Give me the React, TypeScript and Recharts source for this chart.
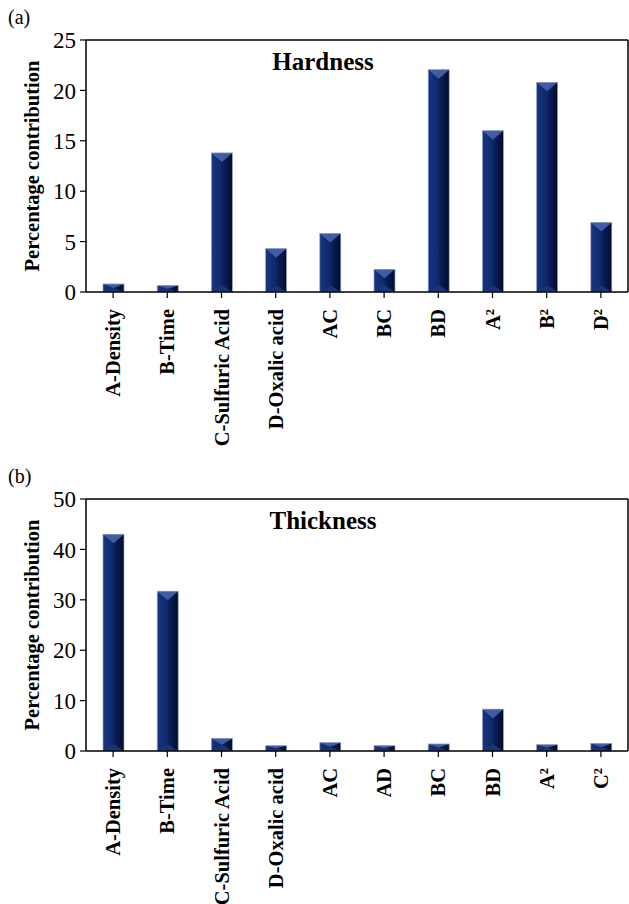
import React from "react";
import { BarChart, Bar, XAxis, YAxis, Label } from "recharts";

const hardnessCategories = [
  "A-Density",
  "B-Time",
  "C-Sulfuric Acid",
  "D-Oxalic acid",
  "AC",
  "BC",
  "BD",
  "A²",
  "B²",
  "D²",
];
const hardnessValues = [0.8, 0.65, 13.8, 4.3, 5.8, 2.25, 22.05, 16.0, 20.8, 6.9];
const hardnessTicks = [0, 5, 10, 15, 20, 25];

const thicknessCategories = [
  "A-Density",
  "B-Time",
  "C-Sulfuric Acid",
  "D-Oxalic acid",
  "AC",
  "AD",
  "BC",
  "BD",
  "A²",
  "C²",
];
const thicknessValues = [43.0, 31.7, 2.5, 1.05, 1.65, 1.05, 1.4, 8.3, 1.25, 1.5];
const thicknessTicks = [0, 10, 20, 30, 40, 50];

const FONT = "'Liberation Serif', 'Times New Roman', serif";

function BevelBar(props: any) {
  const { x, y, width: w, height: h } = props;
  if (!h || h <= 0) return null;
  const dt = Math.min(9, h / 2);
  const db = Math.min(7, h / 2);
  return (
    <g>
      <defs>
        <linearGradient id="bevelBody" x1="0" y1="0" x2="1" y2="0">
          <stop offset="0%" stopColor="#173580" />
          <stop offset="45%" stopColor="#0f2a6c" />
          <stop offset="55%" stopColor="#0a215c" />
          <stop offset="100%" stopColor="#020b2c" />
        </linearGradient>
      </defs>
      <rect x={x} y={y} width={w} height={h} fill="url(#bevelBody)" />
      <polygon
        points={`${x},${y} ${x + w},${y} ${x + w / 2},${y + dt}`}
        fill="#3f5ca4"
      />
      <polygon
        points={`${x},${y + h} ${x + w},${y + h} ${x + w / 2},${y + h - db}`}
        fill="#1b3477"
      />
      <rect
        x={x}
        y={y}
        width={w}
        height={h}
        fill="none"
        stroke="#9aa5c4"
        strokeWidth={0.7}
      />
    </g>
  );
}

function RotatedTick(props: any) {
  const { x, y, payload } = props;
  return (
    <text
      x={0}
      y={0}
      transform={`translate(${x},${y + 9}) rotate(-90)`}
      textAnchor="end"
      dominantBaseline="central"
      fontFamily={FONT}
      fontWeight="bold"
      fontSize={20.5}
      fill="#000"
    >
      {payload.value}
    </text>
  );
}

function YTitle(props: any) {
  const { viewBox } = props;
  const cx = 32;
  const cy = viewBox.y + viewBox.height / 2;
  return (
    <text
      x={cx}
      y={cy}
      transform={`rotate(-90, ${cx}, ${cy})`}
      textAnchor="middle"
      dominantBaseline="central"
      fontFamily={FONT}
      fontWeight="bold"
      fontSize={20.5}
      fill="#000"
    >
      Percentage contribution
    </text>
  );
}

function ContributionChart({
  categories,
  values,
  ticks,
  height,
  axisHeight,
  title,
  tag,
}: {
  categories: string[];
  values: number[];
  ticks: number[];
  height: number;
  axisHeight: number;
  title: string;
  tag: string;
}) {
  const data = categories.map((name, i) => ({ name, value: values[i] }));
  const axisStyle = { stroke: "#000", strokeWidth: 1.5 };
  return (
    <div style={{ position: "relative", width: 629, height }}>
      <div
        style={{
          position: "absolute",
          left: 8,
          top: 6,
          fontFamily: FONT,
          fontSize: 20,
        }}
      >
        {tag}
      </div>
      <div
        style={{
          position: "absolute",
          left: 0,
          width: 646,
          top: 47,
          textAlign: "center",
          fontFamily: FONT,
          fontWeight: "bold",
          fontSize: 25,
          lineHeight: "30px",
        }}
      >
        {title}
      </div>
      <BarChart
        width={629}
        height={height}
        data={data}
        margin={{ top: 39, right: 0, left: 36, bottom: height - 292 - axisHeight }}
        barCategoryGap={0}
      >
        <XAxis
          dataKey="name"
          interval={0}
          height={axisHeight}
          tick={<RotatedTick />}
          tickSize={6}
          axisLine={axisStyle}
          tickLine={{ stroke: "#000", strokeWidth: 1.2 }}
        />
        <XAxis
          xAxisId="top"
          dataKey="name"
          orientation="top"
          height={1}
          tick={false}
          tickLine={false}
          axisLine={axisStyle}
        />
        <YAxis
          domain={[ticks[0], ticks[ticks.length - 1]]}
          ticks={ticks}
          width={50}
          tickSize={6}
          tickMargin={4}
          tick={{ fontFamily: FONT, fontSize: 23, fill: "#000" }}
          axisLine={axisStyle}
          tickLine={{ stroke: "#000", strokeWidth: 1.2 }}
        >
          <Label content={<YTitle />} />
        </YAxis>
        <YAxis
          yAxisId="right"
          orientation="right"
          width={1}
          domain={[0, 1]}
          tick={false}
          tickLine={false}
          axisLine={axisStyle}
        />
        <Bar
          dataKey="value"
          barSize={21}
          shape={<BevelBar />}
          isAnimationActive={false}
        />
      </BarChart>
    </div>
  );
}

export default function App() {
  return (
    <div
      style={{
        position: "absolute",
        left: 0,
        top: 0,
        width: 629,
        height: 904,
        background: "#fff",
        overflow: "hidden",
      }}
    >
      <ContributionChart
        categories={hardnessCategories}
        values={hardnessValues}
        ticks={hardnessTicks}
        height={459}
        axisHeight={160}
        title="Hardness"
        tag="(a)"
      />
      <ContributionChart
        categories={thicknessCategories}
        values={thicknessValues}
        ticks={thicknessTicks}
        height={445}
        axisHeight={150}
        title="Thickness"
        tag="(b)"
      />
    </div>
  );
}
